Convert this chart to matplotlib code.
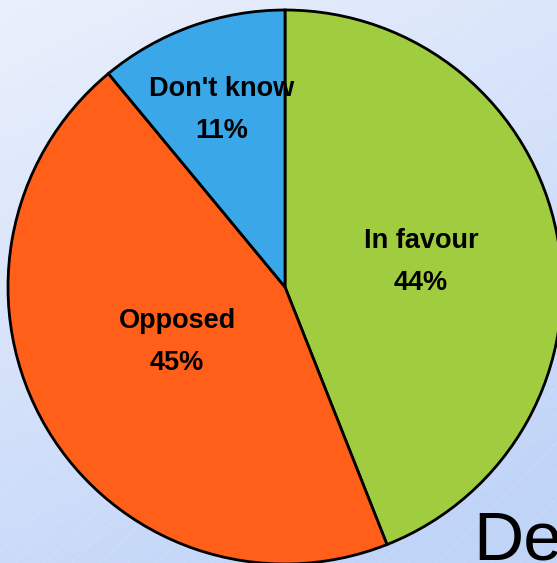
import numpy as np
import matplotlib
matplotlib.use("Agg")
import matplotlib.pyplot as plt

categories = ["In favour", "Opposed", "Don't know"]
values = [44, 45, 11]
colors = ["#A0CC40", "#FF5F19", "#3AA8E8"]

W, H = 557, 563
fig = plt.figure(figsize=(W / 100, H / 100), dpi=100)
ax = fig.add_axes([0, 0, 1, 1])

# background gradient
yy, xx = np.mgrid[0:1:200j, 0:1:200j]
t = np.clip(0.35 * xx + 0.75 * yy, 0, 1)
top = np.array([234, 240, 252]) / 255
bot = np.array([192, 212, 248]) / 255
img = top[None, None, :] * (1 - t[..., None]) + bot[None, None, :] * t[..., None]
ax.imshow(img, extent=[0, W, 0, H], origin="upper", zorder=0, aspect="auto")
for k in np.arange(-600, 1200, 28):
    ax.plot([k, k + 600], [0, 600], color="white", lw=0.5, alpha=0.2, zorder=0.5)

cx, cy, r = 285, H - 287, 277
wedges, _ = ax.pie(values, colors=colors, startangle=90, counterclock=False,
                   center=(cx, cy), radius=r, frame=True,
                   wedgeprops=dict(edgecolor="black", linewidth=2.0))
ax.set_xlim(0, W)
ax.set_ylim(0, H)
ax.set_aspect("equal")
ax.axis("off")

label_pos = [(421, H - 262), (177, H - 342), (222, H - 110)]
for (x, y), c, v in zip(label_pos, categories, values):
    ax.text(x, y, f"{c}\n{v}%", ha="center", va="center", fontsize=19.5,
            fontweight="bold", family="Liberation Sans", linespacing=1.75, zorder=5)

ax.text(473, 3, "De", ha="left", va="baseline", fontsize=50,
        family="Liberation Sans", color="black", zorder=6)

fig.savefig("out.png", dpi=100)
